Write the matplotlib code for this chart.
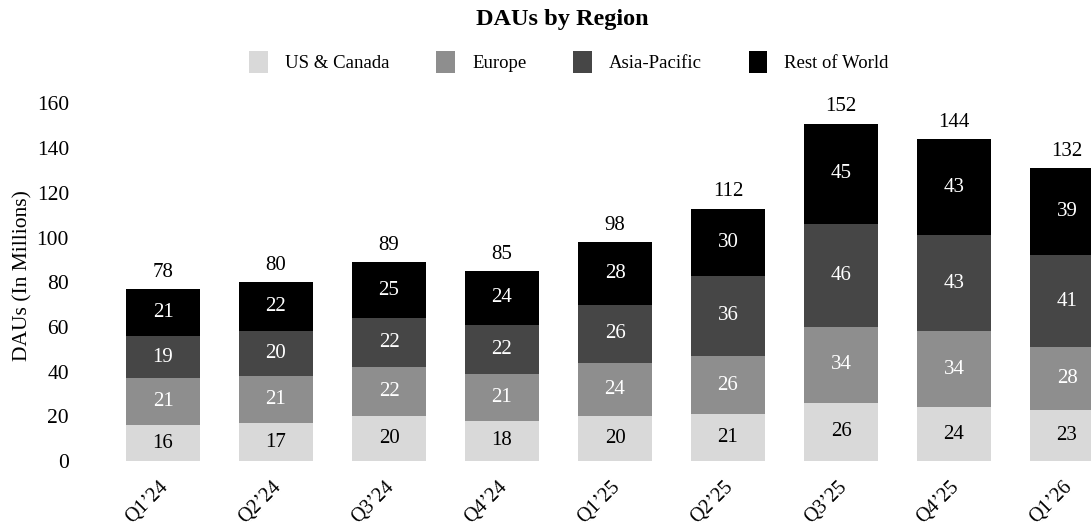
import matplotlib
matplotlib.use("Agg")
import matplotlib.pyplot as plt
import matplotlib.transforms as mtrans
import numpy as np
from matplotlib.patches import Patch

quarters = ["Q1’24", "Q2’24", "Q3’24", "Q4’24", "Q1’25", "Q2’25", "Q3’25", "Q4’25", "Q1’26"]
us_canada = [16, 17, 20, 18, 20, 21, 26, 24, 23]
europe = [21, 21, 22, 21, 24, 26, 34, 34, 28]
asia_pacific = [19, 20, 22, 22, 26, 36, 46, 43, 41]
rest_of_world = [21, 22, 25, 24, 28, 30, 45, 43, 39]
totals = [78, 80, 89, 85, 98, 112, 152, 144, 132]

series_names = ["US & Canada", "Europe", "Asia-Pacific", "Rest of World"]
series_values = [us_canada, europe, asia_pacific, rest_of_world]
colors = ["#d9d9d9", "#8e8e8e", "#464646", "#000000"]
text_colors = ["#000000", "#ffffff", "#ffffff", "#ffffff"]

plt.rcParams["font.family"] = ["Liberation Serif", "DejaVu Serif"]

W, H = 1091, 529
fig = plt.figure(figsize=(W / 100, H / 100), dpi=100)
ax_left, ax_right = 106.5, 1123.5
ax_bottom, ax_top = 461, 103.5
ax = fig.add_axes([ax_left / W, (H - ax_bottom) / H,
                   (ax_right - ax_left) / W, (ax_bottom - ax_top) / H])

x = np.arange(len(quarters))
bw = 0.655
bottom = np.zeros(len(quarters))
for name, vals, c, tc in zip(series_names, series_values, colors, text_colors):
    vals = np.array(vals, dtype=float)
    ax.bar(x, vals, bw, bottom=bottom, color=c, label=name, edgecolor="none")
    for xi, b, v in zip(x, bottom, vals):
        ax.text(xi, b + v / 2, f"{int(v)}", ha="center", va="center",
                color=tc, fontsize=15)
    bottom += vals

for xi, t, b in zip(x, totals, bottom):
    ax.text(xi, b + 3.3, f"{t}", ha="center", va="bottom", fontsize=15,
            color="#000000", clip_on=False)

ax.set_xlim(-0.5, len(quarters) - 0.5)
ax.set_ylim(0, 160)
ax.set_yticks(np.arange(0, 161, 20))
ax.tick_params(axis="y", length=0, pad=27, labelsize=15.5)
ax.tick_params(axis="x", length=0, pad=12, labelsize=14.5)
ax.set_xticks(x)
ax.set_xticklabels(quarters, rotation=45, ha="right", rotation_mode="anchor")
offset = mtrans.ScaledTranslation(-4 / 100, 0 / 100, fig.dpi_scale_trans)
for lab in ax.get_xticklabels():
    lab.set_transform(lab.get_transform() + offset)
for s in ax.spines.values():
    s.set_visible(False)
ax.set_ylabel("DAUs (In Millions)", fontsize=15.5)
ax.yaxis.set_label_coords((32 - ax_left) / (ax_right - ax_left), 0.52)

fig.text(562 / W, 1 - 20 / H, "DAUs by Region", ha="center", va="center",
         fontsize=17.5, fontweight="bold")

handles = [Patch(facecolor=c, edgecolor="none", label=n) for n, c in zip(series_names, colors)]
fig.legend(handles=handles, loc="center", bbox_to_anchor=(569 / W, 1 - 62 / H),
           ncol=4, frameon=False, fontsize=13.5, handlelength=1.0, handleheight=1.35,
           handletextpad=0.9, columnspacing=2.5)

fig.savefig("out.png", dpi=100)
